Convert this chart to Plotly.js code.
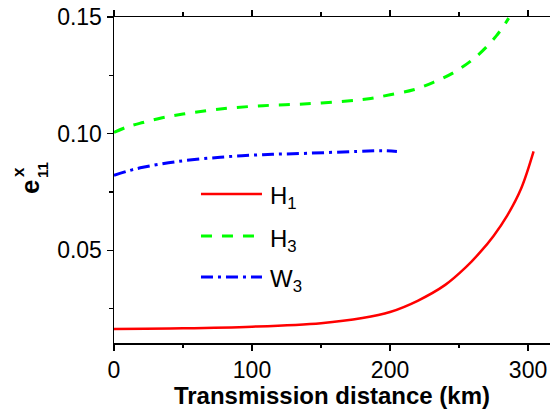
<!DOCTYPE html>
<html>
<head>
<meta charset="utf-8">
<script src="https://cdn.plot.ly/plotly-3.0.1.min.js"></script>
<style>html,body{margin:0;padding:0;background:#fff;}#plot{width:550px;height:409px;}</style>
</head>
<body>
<div id="plot"></div>
<script>
// Data
var h1X = [0, 50, 100, 150, 180, 200, 220, 240, 255, 265, 275, 285, 295, 304];
var h1Y = [0.0163, 0.0166, 0.0173, 0.0188, 0.0210, 0.0236, 0.0284, 0.0352, 0.0428, 0.0490, 0.0562, 0.0650, 0.0765, 0.0924];

var h3X = [0, 10, 21, 35, 50, 77, 108, 140, 171, 186, 200, 217, 231, 247, 263, 277, 286];
var h3Y = [0.1005, 0.1030, 0.1048, 0.1068, 0.1084, 0.1106, 0.1120, 0.1128, 0.1141, 0.1151, 0.1167, 0.1188, 0.1219, 0.1265, 0.1333, 0.1419, 0.1495];

var w3X = [0, 10, 21, 45, 77, 108, 140, 176, 195, 205];
var w3Y = [0.0821, 0.0840, 0.0856, 0.0880, 0.0899, 0.0910, 0.0916, 0.0924, 0.0927, 0.0924];

var seriesNames = ['H<sub>1</sub>', 'H<sub>3</sub>', 'W<sub>3</sub>'];
var xTicks = [0, 100, 200, 300];
var yTicks = [0.05, 0.10, 0.15];
var xTitle = 'Transmission distance (km)';

var FONT = 'Liberation Sans, Arial, sans-serif';
var styles = [
  {color: '#ff0000', width: 2.5, dash: 'solid'},
  {color: '#00ff00', width: 3, dash: '11px,10px'},
  {color: '#0000ff', width: 3, dash: '12px,5px,3px,5px'}
];
var xs = [h1X, h3X, w3X];
var ys = [h1Y, h3Y, w3Y];

var traces = xs.map(function (x, i) {
  return {
    x: x, y: ys[i], name: seriesNames[i], type: 'scatter', mode: 'lines',
    line: {color: styles[i].color, width: styles[i].width, dash: styles[i].dash, shape: 'spline', smoothing: 1},
    showlegend: false
  };
});

// custom legend (line samples + labels) in paper coordinates
var legY = [0.4571, 0.3282, 0.2025];
var shapes = [];
var annotations = [];
legY.forEach(function (y, i) {
  shapes.push({type: 'line', xref: 'paper', yref: 'paper', x0: 0.1995, x1: 0.3394, y0: y, y1: y,
    line: {color: styles[i].color, width: styles[i].width, dash: styles[i].dash}});
  annotations.push({xref: 'paper', yref: 'paper', x: 0.3532, y: y, xanchor: 'left', yanchor: 'middle',
    yshift: -4, showarrow: false, text: seriesNames[i], font: {family: FONT, size: 24, color: '#000'}});
});

// y axis title e^x_11 built from pieces
annotations.push({xref: 'paper', yref: 'paper', x: -0.1927, y: 0.4785, xanchor: 'center', yanchor: 'middle',
  textangle: -90, showarrow: false, text: '<b>e</b>', font: {family: FONT, size: 26, color: '#000'}});
annotations.push({xref: 'paper', yref: 'paper', x: -0.2202, y: 0.5245, xanchor: 'center', yanchor: 'middle',
  textangle: -90, showarrow: false, text: '<b>x</b>', font: {family: FONT, size: 17, color: '#000'}});
annotations.push({xref: 'paper', yref: 'paper', x: -0.1628, y: 0.5307, xanchor: 'center', yanchor: 'middle',
  textangle: -90, showarrow: false, text: '<b>11</b>', font: {family: FONT, size: 15, color: '#000'}});

var layout = {
  width: 550, height: 409,
  margin: {l: 114, r: 0, t: 17, b: 66, pad: 0},
  paper_bgcolor: '#fff', plot_bgcolor: '#fff',
  font: {family: FONT, size: 23, color: '#000'},
  xaxis: {
    range: [0, 315.9], tickvals: xTicks, ticktext: xTicks.map(String),
    showgrid: false, zeroline: false, showline: true, linecolor: '#000', linewidth: 1.5,
    mirror: 'ticks', ticks: 'outside', ticklen: 6, tickwidth: 1.5, tickcolor: '#000',
    minor: {dtick: 50, ticks: 'outside', ticklen: 3.5, tickwidth: 1.5, tickcolor: '#000', showgrid: false},
    tickfont: {family: FONT, size: 23},
    title: {text: '<b>' + xTitle + '</b>', font: {family: FONT, size: 24}, standoff: 1}
  },
  yaxis: {
    range: [0.0103, 0.15], tickvals: yTicks, ticktext: yTicks.map(function (v) { return v.toFixed(2); }),
    showgrid: false, zeroline: false, showline: true, linecolor: '#000', linewidth: 1.5,
    ticks: 'outside', ticklen: 6, tickwidth: 1.5, tickcolor: '#000',
    minor: {dtick: 0.025, tick0: 0, ticks: 'outside', ticklen: 3.5, tickwidth: 1.5, tickcolor: '#000', showgrid: false},
    tickfont: {family: FONT, size: 23}
  },
  shapes: shapes,
  annotations: annotations,
  showlegend: false
};

Plotly.newPlot('plot', traces, layout, {displayModeBar: false, staticPlot: true});
</script>
</body>
</html>
